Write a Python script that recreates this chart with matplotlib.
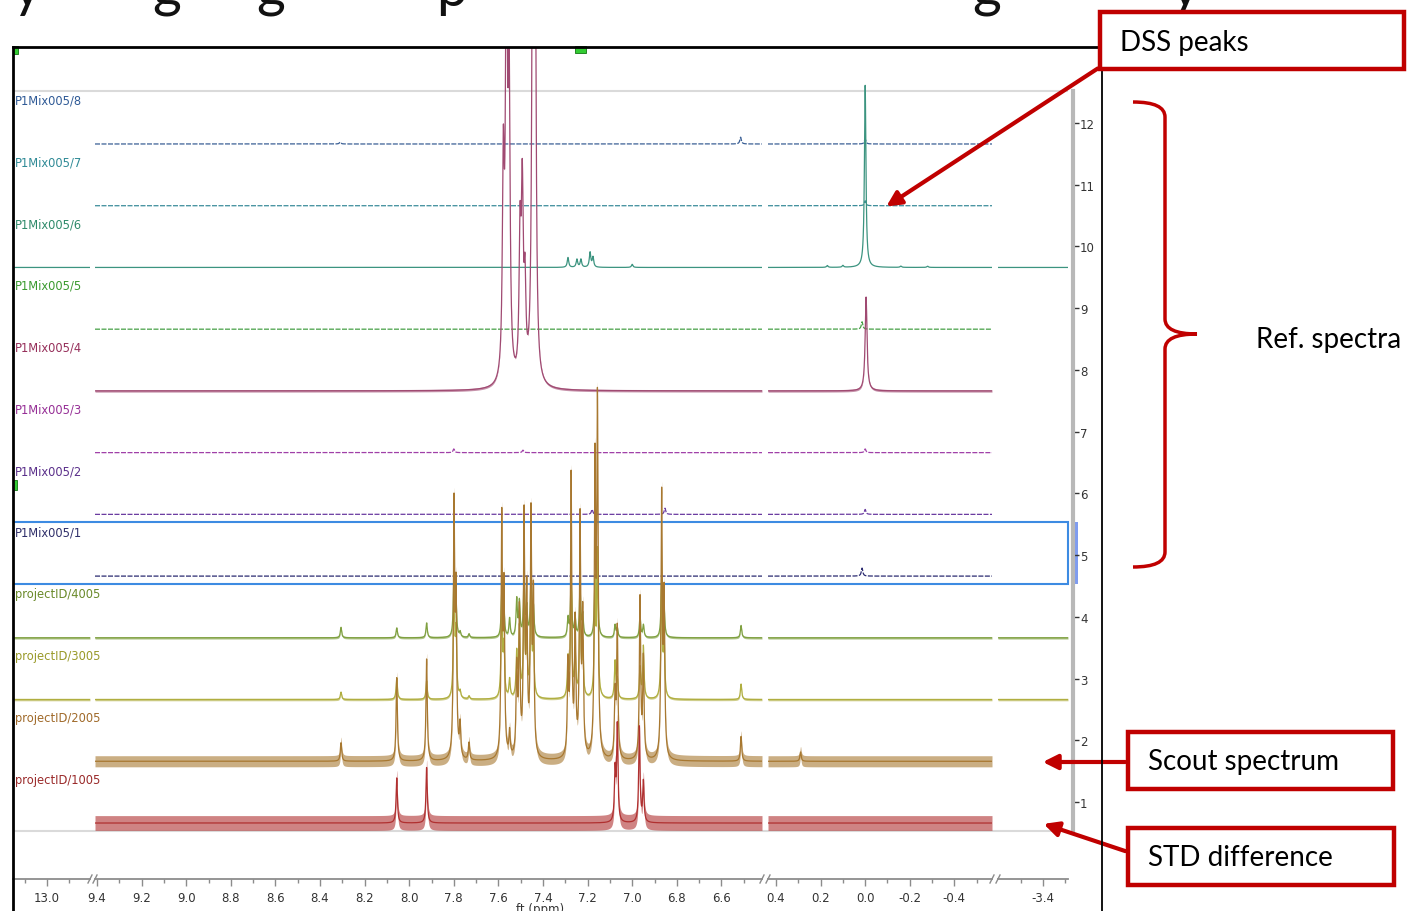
import numpy as np
import matplotlib.pyplot as plt
from matplotlib.patches import Rectangle, FancyArrowPatch, PathPatch
from matplotlib.path import Path

# ---- stacked spectra (top to bottom), position on the right-hand stack axis
labels = ['P1Mix005/8', 'P1Mix005/7', 'P1Mix005/6', 'P1Mix005/5', 'P1Mix005/4',
          'P1Mix005/3', 'P1Mix005/2', 'P1Mix005/1',
          'projectID/4005', 'projectID/3005', 'projectID/2005', 'projectID/1005']
stack_pos = [12, 11, 10, 9, 8, 7, 6, 5, 4, 3, 2, 1]

# reference spectra peaks (ppm, height in stack units)
mix8_ppm = [8.31, 6.514, 0.0]
mix8_h = [0.03, 0.11, 0.08]
mix7_ppm = [0.0]
mix7_h = [0.08]
mix6_ppm = [7.288, 7.248, 7.230, 7.189, 7.176, 7.00, 0.17, 0.10, 0.0, -0.16, -0.28]
mix6_h = [0.16, 0.13, 0.13, 0.24, 0.16, 0.05, 0.03, 0.03, 2.95, 0.02, 0.02]
mix5_ppm = [0.014]
mix5_h = [0.12]
mix4_ppm = [7.578, 7.564, 7.552, 7.503, 7.493, 7.481, 7.446, 7.435, -0.004]
mix4_h = [3.3, 7.0, 4.6, 2.2, 2.9, 1.4, 8.0, 6.5, 1.52]
mix3_ppm = [7.80, 7.49, 0.0]
mix3_h = [0.06, 0.04, 0.06]
mix2_ppm = [7.18, 6.853, 0.0]
mix2_h = [0.08, 0.10, 0.08]
mix1_ppm = [0.014]
mix1_h = [0.13]

# scout / project spectra peaks
scout_ppm = [8.306, 8.056, 7.922, 7.799, 7.790, 7.772, 7.732, 7.585, 7.575, 7.55,
             7.518, 7.506, 7.485, 7.473, 7.454, 7.443, 7.288, 7.274, 7.256, 7.234,
             7.222, 7.167, 7.156, 7.077, 7.067, 6.965, 6.950, 6.868, 6.857, 6.512, 0.29]
p4005_h = [0.17, 0.16, 0.24, 1.1, 0.5, 0.08, 0.06, 0.7, 0.4, 0.3,
           0.6, 0.55, 0.95, 0.45, 0.95, 0.45, 0.3, 0.9, 0.3, 0.8,
           0.35, 0.9, 1.1, 0.2, 0.15, 0.35, 0.2, 0.9, 0.45, 0.2, 0.0]
p3005_h = [0.12, 0.35, 0.3, 1.8, 1.0, 0.1, 0.05, 1.6, 0.8, 0.3,
           0.7, 1.1, 1.8, 0.9, 1.8, 0.9, 0.6, 2.0, 0.7, 1.7,
           0.8, 1.8, 2.3, 0.6, 0.3, 0.5, 0.85, 1.9, 0.9, 0.25, 0.0]
p2005_h = [0.3, 1.35, 1.65, 4.0, 2.5, 0.52, 0.28, 3.8, 2.6, 0.4,
           1.4, 2.3, 3.8, 2.5, 3.8, 2.5, 1.4, 4.5, 2.1, 3.8,
           2.2, 4.6, 5.6, 1.0, 2.1, 2.6, 1.6, 4.2, 2.5, 0.4, 0.15]
std_ppm = [8.056, 7.922, 7.077, 7.067, 6.968, 6.950]
std_h = [0.73, 0.90, 0.81, 1.55, 1.55, 0.65]

peaks_ppm = [mix8_ppm, mix7_ppm, mix6_ppm, mix5_ppm, mix4_ppm, mix3_ppm, mix2_ppm,
             mix1_ppm, scout_ppm, scout_ppm, scout_ppm, std_ppm]
peaks_h = [mix8_h, mix7_h, mix6_h, mix5_h, mix4_h, mix3_h, mix2_h, mix1_h,
           p4005_h, p3005_h, p2005_h, std_h]

# styles
colors = ['#3a5f95', '#3a8c9a', '#3c9480', '#46a046', '#a04a72', '#a040a8',
          '#6a3aa0', '#2a2a70', '#7fa040', '#b0ae40', '#a87830', '#b03030']
label_colors = ['#2f5a96', '#2f8a96', '#2f8a6a', '#3a9a2f', '#962f5a', '#962f96',
                '#5a2f8a', '#2f2f6a', '#6a8a2a', '#9a9a2a', '#a06a2a', '#9a2a2a']
dashed = [True, True, False, True, False, True, True, True, False, False, False, False]
half_width = [0.004, 0.004, 0.004, 0.004, 0.005, 0.004, 0.004, 0.004,
              0.0035, 0.0035, 0.0035, 0.0035]
noise_band = [0, 0, 0, 0, 0.02, 0, 0, 0, 0.02, 0.02, 0.09, 0.12]
segments_shown = [[1, 2], [1, 2], [0, 1, 2, 3], [1, 2], [1, 2], [1, 2], [1, 2], [1, 2],
                  [0, 1, 2, 3], [0, 1, 2, 3], [1, 2], [1, 2]]

# broken ppm axis
seg_px = [(13, 90), (95, 762), (768, 992), (998, 1068)]
seg_ppm = [(13.152, 12.807), (9.409, 6.418), (0.436, -0.569), (-3.198, -3.512)]
seg_major = [[13.0], [9.4, 9.2, 9.0, 8.8, 8.6, 8.4, 8.2, 8.0, 7.8, 7.6, 7.4, 7.2, 7.0, 6.8, 6.6],
             [0.4, 0.2, 0.0, -0.2, -0.4], [-3.4]]
seg_minor = [[13.1, 12.9], [9.3, 9.1, 8.9, 8.7, 8.5, 8.3, 8.1, 7.9, 7.7, 7.5, 7.3, 7.1, 6.9, 6.7, 6.5],
             [0.3, 0.1, -0.1, -0.3, -0.5], [-3.3, -3.5]]

W, H = 1409, 912
PX_PER_UNIT = 61.73
ax_top, ax_bot = 48, 880
ylim = (12 - (ax_bot - 124) / PX_PER_UNIT, 12 + (124 - ax_top) / PX_PER_UNIT)

fig = plt.figure(figsize=(W / 100, H / 100), dpi=100)


def fx(px):
    return px / W


def fy(py):
    return 1 - py / H


def spectrum(ppm, centers, heights, hw):
    y = np.zeros_like(ppm)
    for c, h in zip(centers, heights):
        y += h / (1 + ((ppm - c) / hw) ** 2)
    return y


# background: labels, guide lines, selection box
bg = fig.add_axes([fx(13), fy(ax_bot), fx(1102 - 13), (ax_bot - ax_top) / H], zorder=0)
bg.set_xlim(13, 1102)
bg.set_ylim(*ylim)
bg.axis('off')
bg.hlines([12.518, 0.53], 13, 1068, color='#dadada', lw=1.5)
for lab, pos, col in zip(labels, stack_pos, label_colors):
    bg.text(15, pos + 0.37, lab, color=col, fontsize=8.3, va='center', ha='left')

# spectra in each x segment
seg_axes = []
for si, ((p0, p1), (x0, x1)) in enumerate(zip(seg_px, seg_ppm)):
    ax = fig.add_axes([fx(p0), fy(ax_bot), fx(p1 - p0), (ax_bot - ax_top) / H], zorder=1)
    ax.patch.set_visible(False)
    ax.set_xlim(x0, x1)
    ax.set_ylim(*ylim)
    ppm = np.linspace(x0, x1, 12000 if si == 1 else 4000)
    for i in range(len(labels)):
        if si not in segments_shown[i]:
            continue
        base = stack_pos[i] - 0.34
        y = base + spectrum(ppm, peaks_ppm[i], peaks_h[i], half_width[i])
        if noise_band[i] > 0:
            ax.fill_between(ppm, y - noise_band[i], y + noise_band[i],
                            color=colors[i], alpha=0.6, lw=0)
        ax.plot(ppm, y, color=colors[i], lw=0.9,
                ls=(0, (4, 1.2)) if dashed[i] else '-')
    for s in ['left', 'right', 'top']:
        ax.spines[s].set_visible(False)
    ax.spines['bottom'].set_color('#8c8c8c')
    ax.spines['bottom'].set_linewidth(1.3)
    ax.set_yticks([])
    ax.set_xticks(seg_major[si])
    ax.set_xticklabels([f'{v:.1f}' for v in seg_major[si]])
    ax.set_xticks(seg_minor[si], minor=True)
    ax.tick_params(axis='x', which='major', direction='out', length=5, width=1,
                   color='#8c8c8c', labelcolor='#333333', labelsize=8.5, pad=4)
    ax.tick_params(axis='x', which='minor', direction='out', length=3, width=1,
                   color='#8c8c8c')
    seg_axes.append(ax)

# selection box over P1Mix005/1
bg.add_patch(Rectangle((13, 4.53), 1055, 1.0, fill=False, ec='#3d8be2', lw=1.5, zorder=5))
bg.add_patch(Rectangle((1072, 4.53), 6, 1.0, color='#7f9cf0', lw=0, zorder=4))

# right-hand stack axis
ay = fig.add_axes([fx(1068), fy(ax_bot), fx(1073 - 1068), (ax_bot - ax_top) / H], zorder=2)
ay.set_ylim(*ylim)
ay.patch.set_visible(False)
for s in ['left', 'top', 'bottom']:
    ay.spines[s].set_visible(False)
ay.spines['right'].set_color('#b8b8b8')
ay.spines['right'].set_linewidth(3)
ay.spines['right'].set_bounds(0.514, 12.518)
ay.set_xticks([])
ay.yaxis.tick_right()
ay.set_yticks(stack_pos)
ay.tick_params(axis='y', direction='out', length=4, width=1, colors='#333333',
               labelsize=8.5, pad=1)

# overlay: window frame, markers, annotations
ov = fig.add_axes([0, 0, 1, 1], zorder=10)
ov.set_xlim(0, W)
ov.set_ylim(H, 0)
ov.axis('off')
ov.plot([13, 1102], [48, 48], color='black', lw=2)
ov.plot([13, 13], [48, H], color='black', lw=2)
ov.plot([1102, 1102], [48, H], color='black', lw=1.3)
for (gx, gy, gw, gh) in [(575, 47, 11, 7), (13, 47, 5, 8), (13, 481, 4, 10)]:
    ov.add_patch(Rectangle((gx, gy), gw, gh, fc='#33cc33', ec='#117711', lw=0.6))

# axis break marks
for p0, p1 in seg_px:
    for xb in (p0, p1):
        if 13 < xb < 1068:
            ov.plot([xb - 2, xb + 2], [884, 876], color='#8c8c8c', lw=1)

# bottom of the slide title, cut off by the crop
for ch, x in zip(['y', 'g', 'g', 'p', 'g', 'y'], [12, 152, 256, 436, 972, 1170]):
    ov.text(x, 6, ch, fontsize=40, family='Lato', va='baseline', color='#111111')

ov.text(540, 903, 'ft (ppm)', fontsize=8.5, ha='center', va='top', color='#333333')

red = '#c00000'
for (x0, y0, x1, y1, txt) in [(1100, 13, 1404, 70, 'DSS peaks'),
                              (1128, 733, 1393, 790, 'Scout spectrum'),
                              (1128, 829, 1394, 886, 'STD difference')]:
    ov.add_patch(Rectangle((x0, y0), x1 - x0, y1 - y0, fc='white', ec=red, lw=3.2, zorder=3))
    ov.text(x0 + 20, (y0 + y1) / 2 + 1, txt, fontsize=20, family='Lato',
            va='center', ha='left', zorder=4)
ov.text(1256, 340, 'Ref. spectra', fontsize=20, family='Lato', va='center', ha='left')

for a, b in [((1100, 68), (884, 209)), ((1128, 763), (1040, 763)), ((1128, 853), (1041, 824))]:
    ov.add_patch(FancyArrowPatch(a, b, arrowstyle='-|>', mutation_scale=22, lw=3, color=red))

verts = [(1133, 103), (1165, 103), (1165, 118), (1165, 320), (1165, 335), (1197, 335),
         (1165, 335), (1165, 350), (1165, 553), (1165, 568), (1133, 568)]
codes = [Path.MOVETO, Path.CURVE3, Path.CURVE3, Path.LINETO, Path.CURVE3, Path.CURVE3,
         Path.CURVE3, Path.CURVE3, Path.LINETO, Path.CURVE3, Path.CURVE3]
ov.add_patch(PathPatch(Path(verts, codes), fill=False, ec=red, lw=2.5))

fig.savefig('out.png', dpi=100)
